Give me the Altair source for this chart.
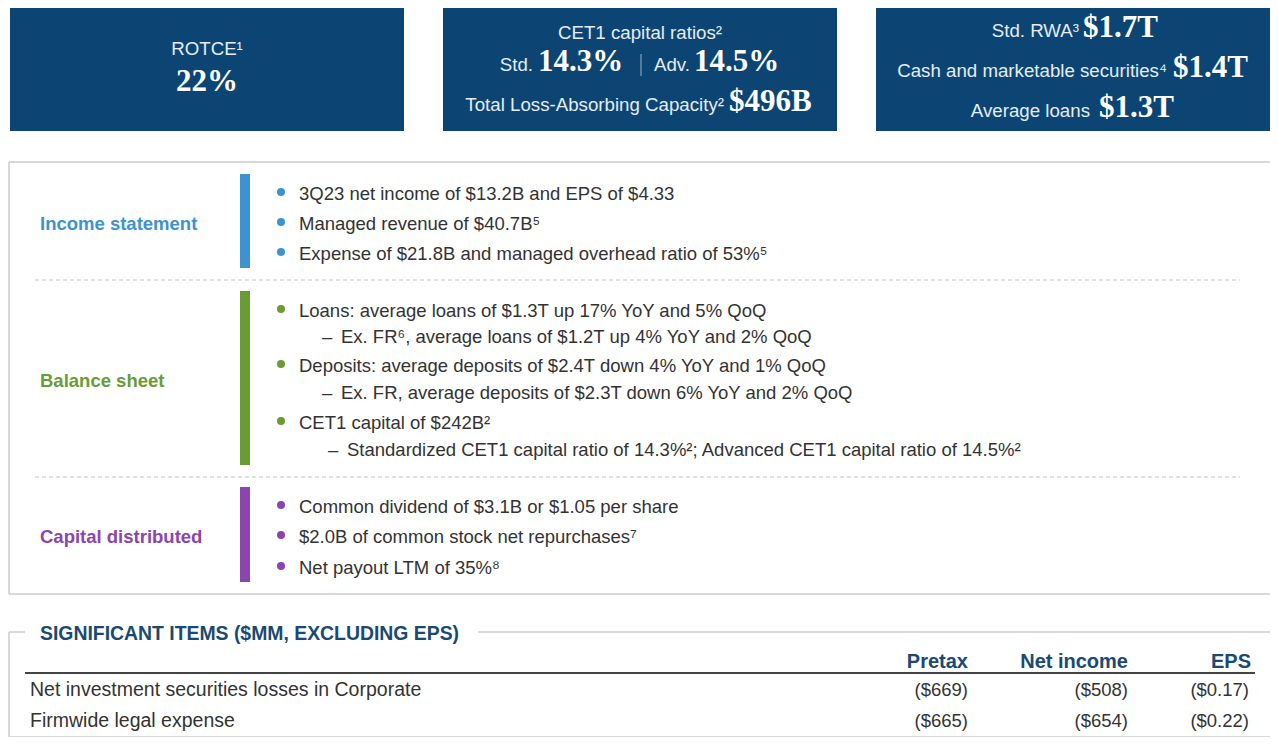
import altair as alt
import pandas as pd

# ---------------- data (text content) ----------------
ROTCE_LABEL = "ROTCE¹"
ROTCE_VALUE = "22%"
CET1_TITLE = "CET1 capital ratios²"
CET1_LABELS = ["Std.", "Adv."]
CET1_VALUES = ["14.3%", "14.5%"]
TLAC_LABEL = "Total Loss-Absorbing Capacity²"
TLAC_VALUE = "$496B"
BS_LABELS = ["Std. RWA³", "Cash and marketable securities⁴", "Average loans"]
BS_VALUES = ["$1.7T", "$1.4T", "$1.3T"]

SECTIONS = ["Income statement", "Balance sheet", "Capital distributed"]
INCOME_ITEMS = [
    "3Q23 net income of $13.2B and EPS of $4.33",
    "Managed revenue of $40.7B⁵",
    "Expense of $21.8B and managed overhead ratio of 53%⁵",
]
BALANCE_ITEMS = [
    "Loans: average loans of $1.3T up 17% YoY and 5% QoQ",
    "Ex. FR⁶, average loans of $1.2T up 4% YoY and 2% QoQ",
    "Deposits: average deposits of $2.4T down 4% YoY and 1% QoQ",
    "Ex. FR, average deposits of $2.3T down 6% YoY and 2% QoQ",
    "CET1 capital of $242B²",
    "Standardized CET1 capital ratio of 14.3%²; Advanced CET1 capital ratio of 14.5%²",
]
BALANCE_LEVELS = [0, 1, 0, 1, 0, 1]
CAPITAL_ITEMS = [
    "Common dividend of $3.1B or $1.05 per share",
    "$2.0B of common stock net repurchases⁷",
    "Net payout LTM of 35%⁸",
]

TABLE_TITLE = "SIGNIFICANT ITEMS ($MM, EXCLUDING EPS)"
TABLE_COLUMNS = ["Pretax", "Net income", "EPS"]
TABLE_ROWS = ["Net investment securities losses in Corporate", "Firmwide legal expense"]
PRETAX = ["($669)", "($665)"]
NET_INCOME = ["($508)", "($654)"]
EPS = ["($0.17)", "($0.22)"]

# ---------------- layout & style ----------------
SANS = "Liberation Sans, Arial, Helvetica, sans-serif"
SERIF = "Liberation Serif, Times New Roman, serif"
NAVY = "#0c4573"
BOX_TEXT = "#e4ecf4"
BODY = "#333333"
HEAD = "#1a4a72"
SEC_COLORS = ["#3c93cf", "#6a9c35", "#8c45ad"]
BOX_FS = 18.7
BODY_FS = 18.5

XS = alt.Scale(domain=[8, 1270], nice=False, zero=False)
YS = alt.Scale(domain=[8, 737], nice=False, zero=False, reverse=True)


def enc_xy(**extra):
    return dict(x=alt.X("x:Q", scale=XS, axis=None),
                y=alt.Y("y:Q", scale=YS, axis=None), **extra)


def text_layer(rows, font=SANS, size=BODY_FS, weight="normal", color=BODY,
               align="left", baseline="middle"):
    df = pd.DataFrame(rows, columns=["x", "y", "t"])
    return alt.Chart(df).mark_text(font=font, fontSize=size, fontWeight=weight,
                                   color=color, align=align, baseline=baseline).encode(
        **enc_xy(text="t:N"))


def rect_layer(rows, color):
    df = pd.DataFrame(rows, columns=["x", "x2", "y", "y2"])
    return alt.Chart(df).mark_rect(color=color).encode(
        **enc_xy(x2="x2:Q", y2="y2:Q"))


def rule_layer(rows, color, width=1.0, dash=None):
    df = pd.DataFrame(rows, columns=["x", "x2", "y", "y2"])
    kw = dict(color=color, strokeWidth=width)
    if dash:
        kw["strokeDash"] = dash
    return alt.Chart(df).mark_rule(**kw).encode(**enc_xy(x2="x2:Q", y2="y2:Q"))


layers = []

# --- top navy boxes ---
BOX_LEFT = [10, 443, 876]
BOX_W = 394
layers.append(rect_layer([(b, b + BOX_W, 5, 131) for b in BOX_LEFT], NAVY))

# Box 1
layers.append(text_layer([(207, 55, ROTCE_LABEL)], size=BOX_FS, color=BOX_TEXT,
                         align="center", baseline="alphabetic"))
layers.append(text_layer([(207, 91, ROTCE_VALUE)], font=SERIF, size=31, weight="bold",
                         color="white", align="center", baseline="alphabetic"))
# Box 2
layers.append(text_layer([(640, 39, CET1_TITLE)], size=BOX_FS, color=BOX_TEXT,
                         align="center", baseline="alphabetic"))
cet1_lab_x = [533, 690]
cet1_val_x = [538, 694]
layers.append(text_layer([(cet1_lab_x[i], 71, CET1_LABELS[i]) for i in range(2)],
                         size=BOX_FS, color=BOX_TEXT, align="right", baseline="alphabetic"))
layers.append(text_layer([(cet1_val_x[i], 71, CET1_VALUES[i]) for i in range(2)],
                         font=SERIF, size=31, weight="bold", color="white",
                         baseline="alphabetic"))
layers.append(rule_layer([(641, 641, 54, 76)], "#9fb2c6", 1))
layers.append(text_layer([(724, 111, TLAC_LABEL)], size=BOX_FS, color=BOX_TEXT,
                         align="right", baseline="alphabetic"))
layers.append(text_layer([(729, 111, TLAC_VALUE)], font=SERIF, size=31, weight="bold",
                         color="white", baseline="alphabetic"))
# Box 3
bs_lab_x = [1079, 1167, 1090]
bs_val_x = [1083, 1173, 1099]
bs_y = [37, 77, 117]
layers.append(text_layer([(bs_lab_x[i], bs_y[i], BS_LABELS[i]) for i in range(3)],
                         size=BOX_FS, color=BOX_TEXT, align="right", baseline="alphabetic"))
layers.append(text_layer([(bs_val_x[i], bs_y[i], BS_VALUES[i]) for i in range(3)],
                         font=SERIF, size=31, weight="bold", color="white",
                         baseline="alphabetic"))

# --- middle panel ---
layers.append(rule_layer([(9, 1271, 162, 162), (9, 1271, 594, 594),
                          (9, 9, 162, 594), (1271, 1271, 162, 594)], "#cdcdcd", 1.5))
layers.append(rule_layer([(35, 1240, 280, 280), (35, 1240, 477, 477)], "#c4c4c4", 1,
                         dash=[4, 3]))

SEC_LABEL_Y = [224, 381, 537]
SEC_BAR_Y = [(174, 268), (291, 465), (487, 582)]
ITEM_Y = [[194, 224, 254], [311, 337, 366, 393, 423, 450], [507, 537, 568]]
ITEMS = [INCOME_ITEMS, BALANCE_ITEMS, CAPITAL_ITEMS]
LEVELS = [[0] * 3, BALANCE_LEVELS, [0] * 3]
SUB_DASH_X = [322, 322, 328]
SUB_TEXT_X = [341, 341, 347]

for s in range(3):
    col = SEC_COLORS[s]
    layers.append(text_layer([(40, SEC_LABEL_Y[s], SECTIONS[s])], weight="bold",
                             color=col))
    layers.append(rect_layer([(240, 250, SEC_BAR_Y[s][0], SEC_BAR_Y[s][1])], col))
    top = [(281, ITEM_Y[s][i] - 2, "") for i in range(len(ITEMS[s])) if LEVELS[s][i] == 0]
    dfb = pd.DataFrame(top, columns=["x", "y", "t"])
    layers.append(alt.Chart(dfb).mark_circle(size=64, opacity=1, color=col).encode(
        **enc_xy()))
    rows = []
    dashes = []
    k = 0
    for i, txt in enumerate(ITEMS[s]):
        if LEVELS[s][i] == 0:
            rows.append((299, ITEM_Y[s][i], txt))
        else:
            dashes.append((SUB_DASH_X[k], ITEM_Y[s][i], "–"))
            rows.append((SUB_TEXT_X[k], ITEM_Y[s][i], txt))
            k += 1
    layers.append(text_layer(rows))
    if dashes:
        layers.append(text_layer(dashes))

# --- bottom table ---
layers.append(rule_layer([(9, 25, 632, 632), (478, 1271, 632, 632),
                          (9, 9, 632, 737), (1271, 1271, 632, 737),
                          (9, 1271, 737, 737)], "#cdcdcd", 1.5))
layers.append(text_layer([(40, 634, TABLE_TITLE)], size=19.4, weight="bold", color=HEAD))
COL_X = [968, 1128, 1251]
VAL_X = [968, 1128, 1249]
layers.append(text_layer([(COL_X[i], 662, TABLE_COLUMNS[i]) for i in range(3)],
                         size=20, weight="bold", color=HEAD, align="right"))
layers.append(rule_layer([(25, 1255, 673, 673)], "#444444", 2))
ROW_Y = [690, 721]
layers.append(text_layer([(30, ROW_Y[r], TABLE_ROWS[r]) for r in range(2)], size=19.5))
vals = []
for r in range(2):
    for i, col in enumerate([PRETAX, NET_INCOME, EPS]):
        vals.append((VAL_X[i], ROW_Y[r], col[r]))
layers.append(text_layer(vals, size=18.5, align="right"))

chart = alt.layer(*layers).properties(
    width=1262, height=729, padding=0, autosize="none", background="white"
).configure_view(stroke=None)

chart.save("out.html", embed_options={"renderer": "svg", "actions": False})
